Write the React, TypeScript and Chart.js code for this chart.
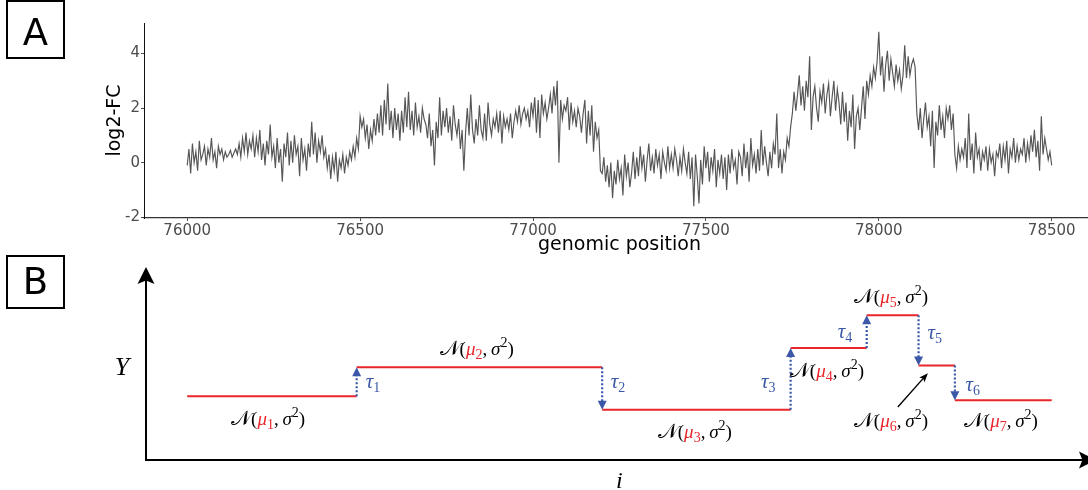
import React, { useEffect, useRef } from "react";
import { Chart, registerables } from "chart.js";

Chart.register(...registerables);

// ---------- Panel A data ----------
const positionStart = 76000;
const positionStep = 5;
const log2FC = [
  -0.1, 0.5, -0.4, 0.7, 0.0, 0.4, -0.3, 0.8, 0.1, 0.3,
  0.6, -0.1, 0.5, 0.2, 0.9, 0.1, 0.4, -0.2, 0.6, 0.3,
  0.5, 0.1, 0.4, 0.2, 0.3, 0.45, 0.2, 0.35, 0.5, 0.3,
  0.7, 0.2, 0.9, 0.4, 1.1, 0.3, 0.8, 0.5, 1.0, 0.2,
  0.9, 0.4, 1.2, 0.1, 0.7, -0.1, 0.8, 0.3, 1.4, 0.2,
  0.6, -0.2, 0.9, 0.0, 0.5, -0.7, 0.7, 0.2, 1.1, -0.1,
  0.8, 0.0, 1.0, 0.3, 0.6, -0.5, 0.9, 0.1, 0.5, -0.3,
  0.7, 0.2, 1.5, 0.3, 1.1, 0.0, 0.8, 0.4, 1.0, 0.2,
  0.5, -0.2, 0.3, -0.6, 0.2, -0.3, 0.4, -0.7, 0.1, -0.2,
  0.3, -0.4, 0.2, -0.1, 0.4, 0.1, 0.6, 0.2, 0.9, 0.5,
  1.7, 1.3, 1.6, 0.9, 1.4, 0.5, 1.2, 0.8, 1.6, 1.0,
  1.8, 1.1, 2.1, 1.0, 2.3, 1.4, 2.9, 1.2, 1.9, 0.9,
  2.0, 1.2, 1.8, 0.8, 1.9, 1.1, 2.4, 1.3, 2.6, 1.2,
  1.9, 1.0, 2.2, 1.3, 1.7, 1.1, 2.0, 1.6, 1.4, 0.9,
  1.8, 0.6, 1.2, -0.1, 1.5, 0.9, 2.4, 1.0, 1.9, 1.3,
  2.0, 1.1, 1.7, 0.8, 2.1, 1.4, 1.0, 1.6, 0.5, 1.2,
  -0.3, 1.1, 2.0, 1.0, 2.5, 1.2, 0.7, 1.6, 1.0, 2.1,
  1.2, 0.9, 1.8, 0.8, 2.2, 1.4, 1.0, 1.6, 1.3, 1.8,
  1.1, 1.9, 0.7, 1.7, 1.3, 1.6, 1.2, 1.8, 0.9, 1.5,
  1.9, 1.5, 2.1, 1.4, 1.8, 2.0, 1.6, 1.9, 1.3, 2.2,
  1.7, 2.4, 1.1, 2.3, 0.9, 2.5, 1.8, 2.2, 1.6, 2.0,
  2.5, 1.8, 2.8, 2.1, 3.0, 0.0, 2.3, 1.6, 2.1, 1.9,
  2.4, 1.2, 2.2, 1.5, 1.9, 1.3, 2.0, 1.7, 1.1, 1.8,
  2.3, 0.7, 1.9, 1.0, 2.1, 0.4, 1.5, 0.9, 1.2, -0.3,
  -0.4, 0.2, -0.7, -0.1, -0.9, 0.0, -1.3, -0.3, -0.8, 0.1,
  -0.6, -0.2, -1.2, 0.3, -0.5, 0.0, -0.9, -0.4, 0.4, -0.6,
  0.2, -0.5, 0.6, -0.2, 0.3, -0.7, 0.1, 0.7, -0.3, 0.2,
  -0.4, 0.5, -0.1, 0.3, -0.6, 0.4, 0.0, -0.3, 0.6, -0.2,
  0.3, -0.2, 0.5, 0.1, -0.5, 0.2, -0.3, 0.5, 0.0, -0.4,
  0.4, -0.6, 0.2, -1.6, 0.3, -0.5, -1.5, 0.1, -0.8, 0.6,
  -0.2, 0.4, -0.7, 0.2, -0.3, 0.5, -0.9, 0.1, -0.4, 0.3,
  -0.6, 0.2, -1.0, 0.3, -0.4, 0.5, -0.2, 0.1, -0.8, 0.4,
  0.2, -0.5, 0.7, -0.2, 0.4, -0.7, 0.9, -0.1, 0.3, -0.4,
  0.5, -0.3, 1.2, -0.1, 0.6, 0.0, -0.5, 0.4, -0.2, 0.7,
  0.3, 1.8, -0.2, 0.5, -0.4, 0.4, 0.1, 0.9, 0.6, 1.3,
  1.8, 2.6, 1.9, 2.5, 3.2, 2.1, 2.8, 1.9, 3.0, 2.4,
  3.9, 1.2, 2.4, 2.8, 2.0, 1.5, 2.6, 2.2, 2.9, 1.8,
  2.5, 2.9, 1.7, 2.4, 3.0, 1.9, 2.7, 2.2, 1.4, 2.6,
  1.5, 2.2, 0.8, 1.9, 1.3, 2.5, 0.5, 1.7, 2.0, 1.2,
  2.0, 2.8, 1.6, 3.0, 2.5, 3.2, 2.8, 3.5, 3.1, 3.7,
  4.8, 3.2, 3.9, 2.6, 3.6, 4.1, 3.0, 3.8, 3.3, 2.8,
  3.6, 3.0, 3.4, 2.7, 3.2, 4.3, 3.1, 3.9, 3.2, 3.6,
  3.8, 3.5, 1.8, 1.2, 2.0, 0.9, 1.6, 2.2, 1.3, 1.7,
  0.6, 1.9, -0.2, 1.5, 1.0, 2.1, 1.2, 1.7, 0.9, 2.0,
  1.6, 2.1, 1.2, 1.8, 0.3, -0.2, 0.6, 0.1, 0.5, 0.2,
  0.9, -0.2, 1.8, 0.1, 0.7, -0.4, 1.1, 0.2, 0.5, -0.3,
  0.4, 0.1, 0.6, -0.3, 0.5, 0.0, 0.3, -0.5, 0.4, 0.2,
  0.7, -0.2, 0.6, 0.1, 0.8, -0.4, 0.5, 0.2, 0.9, 0.0,
  0.6, 0.1, 0.5, 0.3, 0.9, 0.0, 0.7, 0.2, 1.0, 0.4,
  1.2, 0.2, 0.8, -0.3, 1.7, 0.3, 0.9, 0.5, 0.1, 0.4,
  -0.1,
];
const xTickValues = [76000, 76500, 77000, 77500, 78000, 78500];
const yTickValues = [-2, 0, 2, 4];
const xAxisTitle = "genomic position";
const yAxisTitle = "log2-FC";

// ---------- Panel B data ----------
const changePoints = [76000, 76490, 77200, 77745, 77965, 78115, 78220, 78500];
const segmentMeans = [33, 48, 26, 58, 75, 49, 31];
const segmentNames = ["1", "2", "3", "4", "5", "6", "7"];
const tauNames = ["1", "2", "3", "4", "5", "6"];

// label anchors (layout, in panel B data units: [x centre, baseline y])
const normalLabelAnchors = [
  [76234, 18.1], [76837, 54.4], [77468, 11.2], [77850, 43.2],
  [78035, 81.2], [78035, 17.3], [78353, 17.3],
];
const tauLabelAnchors = [
  [76537, 37.3], [77246, 37.3], [77680, 37.3], [77902, 63.2], [78162, 62.7], [78272, 35.8],
];
const pointerArrow = [[78055, 27.5], [78142, 45]];

const X_MIN = 75875;
const X_MAX = 78605;
const RED = "#e8262b";
const BLUE = "#3b58a8";
const SERIF = "'Liberation Serif', 'DejaVu Serif', serif";

function drawBox(ctx: CanvasRenderingContext2D, x: number, y: number, w: number, h: number, label: string, baseline: number) {
  ctx.save();
  ctx.strokeStyle = "#000";
  ctx.lineWidth = 2;
  ctx.strokeRect(x, y, w, h);
  ctx.fillStyle = "#000";
  ctx.font = "37px 'DejaVu Sans'";
  ctx.textAlign = "center";
  ctx.textBaseline = "alphabetic";
  ctx.fillText(label, x + w / 2, baseline);
  ctx.restore();
}

type Part = { t: string; font: string; color: string; dy: number };

function drawParts(ctx: CanvasRenderingContext2D, parts: Part[], cx: number, baseline: number) {
  ctx.save();
  ctx.textAlign = "left";
  ctx.textBaseline = "alphabetic";
  let total = 0;
  const widths: number[] = [];
  for (const p of parts) {
    ctx.font = p.font;
    const w = ctx.measureText(p.t).width;
    widths.push(w);
    total += w;
  }
  let x = cx - total / 2;
  parts.forEach((p, i) => {
    ctx.font = p.font;
    ctx.fillStyle = p.color;
    ctx.fillText(p.t, x, baseline + p.dy);
    x += widths[i];
  });
  ctx.restore();
}

function normalParts(k: string): Part[] {
  const big = `19px ${SERIF}`;
  const it = `italic 19px ${SERIF}`;
  const small = `14px ${SERIF}`;
  return [
    { t: "\u{1D4A9}", font: `21px ${SERIF}`, color: "#000", dy: 0 },
    { t: "(", font: big, color: "#000", dy: 0 },
    { t: "\u03BC", font: it, color: RED, dy: 0 },
    { t: k, font: small, color: RED, dy: 4 },
    { t: ",\u2009", font: big, color: "#000", dy: 0 },
    { t: "\u03C3", font: it, color: "#000", dy: 0 },
    { t: "2", font: small, color: "#000", dy: -8 },
    { t: ")", font: big, color: "#000", dy: 0 },
  ];
}

function tauParts(k: string): Part[] {
  return [
    { t: "\u03C4", font: `italic 21px ${SERIF}`, color: BLUE, dy: 0 },
    { t: k, font: `14px ${SERIF}`, color: BLUE, dy: 4 },
  ];
}

function arrowHead(ctx: CanvasRenderingContext2D, tipX: number, tipY: number, angle: number, len: number, half: number) {
  ctx.save();
  ctx.translate(tipX, tipY);
  ctx.rotate(angle);
  ctx.beginPath();
  ctx.moveTo(0, 0);
  ctx.lineTo(-len, -half);
  ctx.lineTo(-len * 0.8, 0);
  ctx.lineTo(-len, half);
  ctx.closePath();
  ctx.fill();
  ctx.restore();
}

const panelAPlugin = {
  id: "panelADecor",
  afterDraw(chart: any) {
    const ctx: CanvasRenderingContext2D = chart.ctx;
    const area = chart.chartArea;
    drawBox(ctx, 7, 1, 57, 57, "A", 45);
    ctx.save();
    ctx.fillStyle = "#000";
    ctx.font = "19px 'DejaVu Sans'";
    ctx.textAlign = "center";
    ctx.textBaseline = "middle";
    ctx.fillText(xAxisTitle, (area.left + chart.scales.x.getPixelForValue(78625)) / 2, 245);
    ctx.translate(115, (area.top + area.bottom) / 2);
    ctx.rotate(-Math.PI / 2);
    ctx.fillText(yAxisTitle, 0, 0);
    ctx.restore();
  },
};

const panelBPlugin = {
  id: "panelBDecor",
  afterDatasetsDraw(chart: any) {
    const ctx: CanvasRenderingContext2D = chart.ctx;
    const area = chart.chartArea;
    const xs = chart.scales.x;
    const ys = chart.scales.y;
    drawBox(ctx, 7, 1, 57, 52, "B", 39);

    // axes with arrows
    ctx.save();
    ctx.strokeStyle = "#000";
    ctx.fillStyle = "#000";
    ctx.lineWidth = 2;
    const ax = area.left + 2;
    const ay = area.bottom;
    ctx.beginPath();
    ctx.moveTo(ax, ay);
    ctx.lineTo(ax, area.top + 10);
    ctx.moveTo(ax - 1, ay);
    ctx.lineTo(chart.width, ay);
    ctx.stroke();
    arrowHead(ctx, ax, area.top, -Math.PI / 2, 17, 8.5);
    arrowHead(ctx, chart.width + 8, ay, 0, 17, 8.5);
    ctx.font = `italic 26px ${SERIF}`;
    ctx.textAlign = "center";
    ctx.textBaseline = "alphabetic";
    ctx.fillText("Y", 122, 120);
    ctx.font = `italic 24px ${SERIF}`;
    ctx.fillText("i", (area.left + chart.scales.x.getPixelForValue(78625)) / 2, 233);
    ctx.restore();

    // change-point arrows
    ctx.save();
    ctx.strokeStyle = BLUE;
    ctx.fillStyle = BLUE;
    for (let k = 1; k < segmentMeans.length; k++) {
      const x = xs.getPixelForValue(changePoints[k]);
      const y0 = ys.getPixelForValue(segmentMeans[k - 1]);
      const y1 = ys.getPixelForValue(segmentMeans[k]);
      const dir = y1 < y0 ? -1 : 1;
      ctx.lineWidth = 2.2;
      ctx.setLineDash([2, 2]);
      ctx.beginPath();
      ctx.moveTo(x, y0);
      ctx.lineTo(x, y1 - dir * 7);
      ctx.stroke();
      ctx.setLineDash([]);
      ctx.beginPath();
      ctx.moveTo(x, y1);
      ctx.lineTo(x - 4.5, y1 - dir * 9);
      ctx.lineTo(x + 4.5, y1 - dir * 9);
      ctx.closePath();
      ctx.fill();
    }
    ctx.restore();

    tauLabelAnchors.forEach((a, i) => {
      drawParts(ctx, tauParts(tauNames[i]), xs.getPixelForValue(a[0]), ys.getPixelForValue(a[1]));
    });
    normalLabelAnchors.forEach((a, i) => {
      drawParts(ctx, normalParts(segmentNames[i]), xs.getPixelForValue(a[0]), ys.getPixelForValue(a[1]));
    });

    // pointer arrow to segment 6
    ctx.save();
    const px0 = xs.getPixelForValue(pointerArrow[0][0]);
    const py0 = ys.getPixelForValue(pointerArrow[0][1]);
    const px1 = xs.getPixelForValue(pointerArrow[1][0]);
    const py1 = ys.getPixelForValue(pointerArrow[1][1]);
    const ang = Math.atan2(py1 - py0, px1 - px0);
    ctx.strokeStyle = "#000";
    ctx.fillStyle = "#000";
    ctx.lineWidth = 1.4;
    ctx.beginPath();
    ctx.moveTo(px0, py0);
    ctx.lineTo(px1 - Math.cos(ang) * 5, py1 - Math.sin(ang) * 5);
    ctx.stroke();
    arrowHead(ctx, px1, py1, ang, 9, 3.5);
    ctx.restore();
  },
};

export default function App() {
  const refA = useRef<HTMLCanvasElement | null>(null);
  const refB = useRef<HTMLCanvasElement | null>(null);

  useEffect(() => {
    const tickFont = { family: "'DejaVu Sans'", size: 15 };
    const chartA = new Chart(refA.current as HTMLCanvasElement, {
      type: "line",
      data: {
        datasets: [
          {
            data: log2FC.map((v, i) => ({ x: positionStart + i * positionStep, y: v })),
            borderColor: "#555555",
            borderWidth: 1.15,
            pointRadius: 0,
            tension: 0,
          },
        ],
      },
      options: {
        responsive: false,
        animation: false,
        events: [],
        layout: { padding: { top: 23, left: 0, right: 0, bottom: 0 } },
        plugins: { legend: { display: false }, tooltip: { enabled: false } },
        scales: {
          x: {
            type: "linear",
            min: X_MIN,
            max: X_MAX,
            afterBuildTicks: (s: any) => {
              s.ticks = xTickValues.map((v) => ({ value: v }));
            },
            afterFit: (s: any) => {
              s.height = 37;
            },
            grid: { display: true, drawOnChartArea: false, drawTicks: true, tickLength: 3, tickColor: "#4d4d4d" },
            border: { display: true, color: "#333", width: 1.2 },
            ticks: {
              color: "#4d4d4d",
              font: tickFont,
              padding: 1,
              maxRotation: 0,
              autoSkip: false,
              callback: (v: any) => String(v),
            },
          },
          y: {
            type: "linear",
            min: -2.03,
            max: 5.12,
            afterBuildTicks: (s: any) => {
              s.ticks = yTickValues.map((v) => ({ value: v }));
            },
            afterFit: (s: any) => {
              s.width = 144;
            },
            grid: { display: true, drawOnChartArea: false, drawTicks: true, tickLength: 3, tickColor: "#4d4d4d" },
            border: { display: true, color: "#111", width: 1 },
            ticks: { color: "#4d4d4d", font: tickFont, padding: 1, callback: (v: any) => String(v) },
          },
        },
      },
      plugins: [panelAPlugin],
    } as any);

    const stepPoints: { x: number; y: number }[] = [];
    segmentMeans.forEach((m, i) => {
      stepPoints.push({ x: changePoints[i], y: m });
      stepPoints.push({ x: changePoints[i + 1], y: m });
    });

    const chartB = new Chart(refB.current as HTMLCanvasElement, {
      type: "line",
      data: {
        datasets: [
          {
            data: stepPoints,
            borderColor: RED,
            borderWidth: 2,
            pointRadius: 0,
            tension: 0,
            segment: {
              borderColor: (c: any) => (c.p0.parsed.x === c.p1.parsed.x ? "rgba(0,0,0,0)" : RED),
            },
          },
        ],
      },
      options: {
        responsive: false,
        animation: false,
        events: [],
        layout: { padding: { top: 12, left: 144, right: 0, bottom: 30 } },
        plugins: { legend: { display: false }, tooltip: { enabled: false } },
        scales: {
          x: { type: "linear", min: X_MIN, max: X_MAX, display: false },
          y: { type: "linear", min: 0, max: 100, display: false },
        },
      },
      plugins: [panelBPlugin],
    } as any);

    return () => {
      chartA.destroy();
      chartB.destroy();
    };
  }, []);

  return (
    <div style={{ position: "fixed", left: 0, top: 0, width: 1088, height: 490, background: "#fff", overflow: "hidden" }}>
      <canvas ref={refA} width={1088} height={255} style={{ position: "absolute", left: 0, top: 0, display: "block" }} />
      <canvas ref={refB} width={1088} height={235} style={{ position: "absolute", left: 0, top: 255, display: "block" }} />
    </div>
  );
}
